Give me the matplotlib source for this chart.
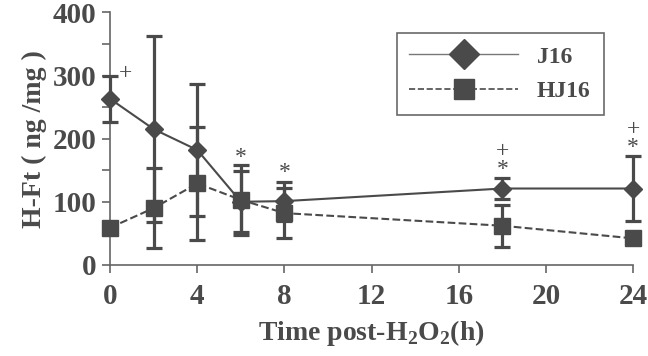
import matplotlib
matplotlib.use("Agg")
import matplotlib.pyplot as plt
from matplotlib.lines import Line2D

plt.rcParams['font.family'] = 'Liberation Serif'
plt.rcParams['mathtext.fontset'] = 'custom'
plt.rcParams['mathtext.rm'] = 'Liberation Serif:bold'

# data
time_h = [0, 2, 4, 6, 8, 18, 24]
j16_mean = [263, 215, 182, 100, 101, 121, 121]
j16_err = [36, 147, 105, 48, 31, 16, 51]
hj16_mean = [59, 90, 129, 103, 82, 62, 42]
hj16_err = [0, 63, 89, 56, 40, 33, 0]

# significance marks (stacked symbols in one text)
marks_x = [0.7, 6, 8, 18, 24]
marks_y = [303, 170, 147, 165, 200]
marks_s = ['+', '*', '*', '+\n*', '+\n*']

col = '#4a4a4a'

fig = plt.figure(figsize=(6.48, 3.56), dpi=100)
ax = fig.add_axes([0.170, 0.256, 0.807, 0.709])

ax.errorbar(time_h, hj16_mean, yerr=hj16_err, color=col, lw=1.5, ls='--',
            marker='s', ms=12, elinewidth=2.3, capsize=6, capthick=2.3,
            clip_on=False, zorder=3)
ax.errorbar(time_h, j16_mean, yerr=j16_err, color=col, lw=1.5, ls='-',
            marker='D', ms=9, elinewidth=2.3, capsize=6, capthick=2.3,
            clip_on=False, zorder=4)

for x, y, s in zip(marks_x, marks_y, marks_s):
    ax.text(x, y, s, ha='center', va='center', fontsize=17, color=col,
            linespacing=0.8)

ax.set_xlim(0, 24)
ax.set_ylim(0, 400)
ax.set_xticks([0, 4, 8, 12, 16, 20, 24])
ax.set_yticks(range(0, 401, 50))
ax.set_yticklabels([str(v) if v % 100 == 0 else '' for v in range(0, 401, 50)])

for s in ['top', 'right']:
    ax.spines[s].set_visible(False)
for s in ['left', 'bottom']:
    ax.spines[s].set_color('#666666')
    ax.spines[s].set_linewidth(1.2)
ax.tick_params(axis='both', direction='out', length=6, width=1.2, color='#666666',
               labelsize=21, labelcolor=col, pad=4)
ax.tick_params(axis='x', pad=7)
for lab in ax.get_xticklabels() + ax.get_yticklabels():
    lab.set_fontweight('bold')

ax.set_ylabel('H-Ft ( ng /mg )', fontsize=20, fontweight='bold', color=col, labelpad=4)
ax.set_xlabel(r'Time post-H$_2$O$_2$(h)', fontsize=20, fontweight='bold', color=col, labelpad=6)

handles = [
    Line2D([], [], color='#777777', lw=1.0, ls='-', marker='D', ms=15, mfc=col, mec=col),
    Line2D([], [], color=col, lw=1.2, ls='--', marker='s', ms=14, mfc=col, mec=col),
]
leg = ax.legend(handles, ['J16', 'HJ16'], loc='upper left', bbox_to_anchor=(0.525, 0.965),
                frameon=True, fancybox=False, edgecolor='#444444', handlelength=4.6,
                borderpad=0.55, labelspacing=0.55, handletextpad=0.8,
                prop={'size': 17, 'weight': 'bold'})
leg.get_frame().set_linewidth(1.2)
for t in leg.get_texts():
    t.set_color(col)

fig.savefig('out.png', dpi=100)
